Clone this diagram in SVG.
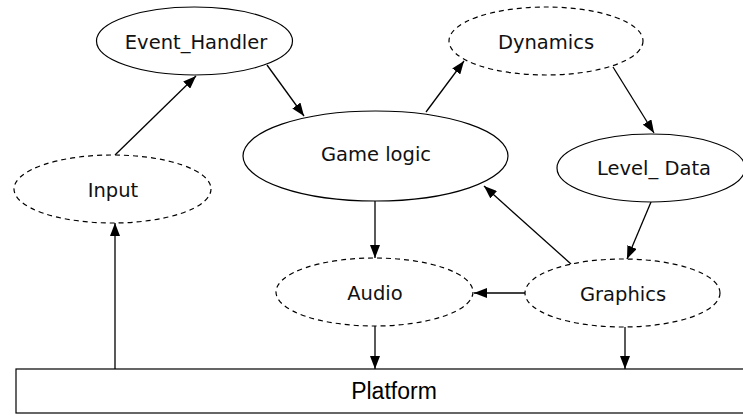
<svg xmlns="http://www.w3.org/2000/svg" width="743" height="416" viewBox="0 0 743 416">
<style>
.n{fill:#fff;stroke:#000;stroke-width:1.2}
.d{stroke-dasharray:5,4}
.t{font-family:"DejaVu Sans",sans-serif;font-size:19.5px;fill:#111;text-anchor:middle}
.p{font-family:"Liberation Sans",Arial,sans-serif;font-size:23px;fill:#000;text-anchor:middle}
.e{stroke:#000;stroke-width:1.3;fill:none;marker-end:url(#a)}
</style>
<defs>
<marker id="a" markerWidth="13" markerHeight="10" refX="13" refY="5" orient="auto" markerUnits="userSpaceOnUse">
<path d="M0,0 L13,5 L0,10 z" fill="#000"/>
</marker>
</defs>
<rect width="743" height="416" fill="#fff"/>
<g id="connectors">
<line class="e" x1="115" y1="155" x2="196" y2="76"/>
<line class="e" x1="267" y1="65" x2="304" y2="116"/>
<line class="e" x1="426" y1="112" x2="464" y2="61"/>
<line class="e" x1="613" y1="67" x2="654" y2="133"/>
<line class="e" x1="651" y1="202" x2="627" y2="259"/>
<line class="e" x1="571" y1="264" x2="484" y2="186"/>
<line class="e" x1="375" y1="201" x2="375" y2="258"/>
<line class="e" x1="525" y1="293" x2="474" y2="293"/>
<line class="e" x1="375" y1="326" x2="375" y2="369"/>
<line class="e" x1="625" y1="327" x2="625" y2="369"/>
<line class="e" x1="115" y1="369" x2="115" y2="223"/>
</g>
<g id="event_handler"><ellipse class="n" cx="194.5" cy="41" rx="98" ry="34"/><text class="t" x="196" y="49">Event_Handler</text></g>
<g id="dynamics"><ellipse class="n d" cx="546" cy="41" rx="97" ry="34"/><text class="t" x="546" y="49">Dynamics</text></g>
<g id="game_logic"><ellipse class="n" cx="375.5" cy="156" rx="132.5" ry="45"/><text class="t" x="376" y="161">Game logic</text></g>
<g id="level_data"><ellipse class="n" cx="651" cy="168" rx="94" ry="34"/><text class="t" x="654" y="175">Level_ Data</text></g>
<g id="input"><ellipse class="n d" cx="112.5" cy="189" rx="98.5" ry="34"/><text class="t" x="113" y="197">Input</text></g>
<g id="audio"><ellipse class="n d" cx="374.5" cy="292" rx="98.5" ry="34"/><text class="t" x="375" y="300">Audio</text></g>
<g id="graphics"><ellipse class="n d" cx="622.5" cy="293" rx="97.5" ry="34"/><text class="t" x="623" y="301">Graphics</text></g>
<g id="platform"><rect class="n" x="16" y="369" width="740" height="44"/><text class="p" x="394" y="399">Platform</text></g>
</svg>
